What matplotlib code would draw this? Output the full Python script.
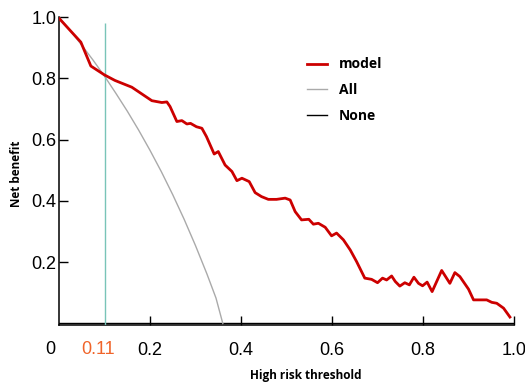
import matplotlib
matplotlib.use("Agg")
import matplotlib.pyplot as plt
import matplotlib.transforms as mtransforms

# model net benefit curve
model_x = [0.000, 0.048, 0.070, 0.100, 0.123, 0.160, 0.185, 0.204, 0.226, 0.237,
           0.244, 0.259, 0.270, 0.281, 0.289, 0.302, 0.314, 0.324, 0.341, 0.350,
           0.365, 0.380, 0.391, 0.402, 0.418, 0.431, 0.445, 0.460, 0.478, 0.497,
           0.508, 0.519, 0.533, 0.549, 0.559, 0.570, 0.585, 0.599, 0.610, 0.625,
           0.640, 0.654, 0.672, 0.687, 0.700, 0.711, 0.720, 0.731, 0.739, 0.749,
           0.760, 0.770, 0.780, 0.790, 0.799, 0.809, 0.820, 0.841, 0.859, 0.870,
           0.881, 0.900, 0.911, 0.940, 0.951, 0.962, 0.977, 0.991]
model_y = [0.996, 0.918, 0.840, 0.811, 0.793, 0.771, 0.746, 0.727, 0.721, 0.723,
           0.708, 0.659, 0.662, 0.651, 0.653, 0.642, 0.637, 0.610, 0.553, 0.561,
           0.517, 0.496, 0.466, 0.474, 0.463, 0.427, 0.414, 0.405, 0.405, 0.409,
           0.403, 0.365, 0.338, 0.340, 0.324, 0.327, 0.314, 0.286, 0.295, 0.273,
           0.240, 0.202, 0.148, 0.144, 0.133, 0.148, 0.142, 0.155, 0.137, 0.122,
           0.133, 0.126, 0.151, 0.131, 0.123, 0.135, 0.104, 0.173, 0.131, 0.166,
           0.153, 0.112, 0.077, 0.077, 0.069, 0.066, 0.050, 0.021]

# treat-all curve
all_x = [0.000, 0.025, 0.050, 0.075, 0.100, 0.125, 0.150, 0.175, 0.200, 0.225,
         0.250, 0.275, 0.300, 0.325, 0.345, 0.360]
all_y = [1.000, 0.955, 0.908, 0.859, 0.807, 0.751, 0.693, 0.631, 0.565, 0.495,
         0.420, 0.340, 0.254, 0.162, 0.083, 0.000]

# treat-none
none_x = [0.0, 1.0]
none_y = [0.0, 0.0]

threshold = 0.1
xticks = [0.2, 0.4, 0.6, 0.8, 1.0]
yticks = [0.2, 0.4, 0.6, 0.8, 1.0]

fig = plt.figure(figsize=(5.25, 3.85), dpi=100)
ax = fig.add_axes([0.1124, 0.1558, 0.8667, 0.8])

ax.plot(none_x, none_y, color='black', lw=1.0, label='None', zorder=2)
ax.plot(all_x, all_y, color='#aaaaaa', lw=1.0, label='All', zorder=3)
ax.plot(model_x, model_y, color='#cc0000', lw=2.0, label='model', zorder=4)
ax.vlines(threshold, -0.005, 0.98, color='#79c4b8', lw=1.0, zorder=3)

ax.set_xlim(0, 1.0)
ax.set_ylim(-0.005, 1.0)
ax.spines['top'].set_visible(False)
ax.spines['right'].set_visible(False)
for s in ['left', 'bottom']:
    ax.spines[s].set_linewidth(1.1)

ax.set_xticks(xticks)
ax.set_xticklabels([f'{v:.1f}' for v in xticks])
ax.set_yticks(yticks)
ax.set_yticklabels([f'{v:.1f}' for v in yticks])
ax.tick_params(axis='both', direction='in', length=6.5, width=1.0,
               labelsize=13)
ax.tick_params(axis='x', pad=12)
ax.tick_params(axis='y', pad=2)
for lab in ax.get_xticklabels() + ax.get_yticklabels():
    lab.set_family('Liberation Sans')

trans = mtransforms.blended_transform_factory(ax.transData, ax.transAxes)
ax.text(-0.02, -0.081, '0', transform=trans, ha='center', va='center',
        fontsize=13, family='Liberation Sans', clip_on=False)
ax.text(0.086, -0.081, '0.11', transform=trans, ha='center', va='center',
        fontsize=13, family='Liberation Sans', color='#f0642a', clip_on=False)

fig.text(306 / 525, 1 - 375 / 385, 'High risk threshold', ha='center',
         va='center', fontsize=8.5, fontweight='bold', family='Open Sans')
fig.text(17 / 525, 1 - 174 / 385, 'Net benefit', ha='center', va='center',
         rotation=90, fontsize=8.5, fontweight='bold', family='Open Sans')

handles, labels = ax.get_legend_handles_labels()
order = [2, 1, 0]
ax.legend([handles[i] for i in order], [labels[i] for i in order],
          frameon=False, loc='upper left',
          bbox_to_anchor=(294 / 525, 1 - 45 / 385),
          bbox_transform=fig.transFigure,
          handlelength=1.5, handletextpad=0.85, labelspacing=0.85,
          prop={'family': 'Open Sans', 'weight': 'bold', 'size': 10})

fig.savefig('out.png', dpi=100)
